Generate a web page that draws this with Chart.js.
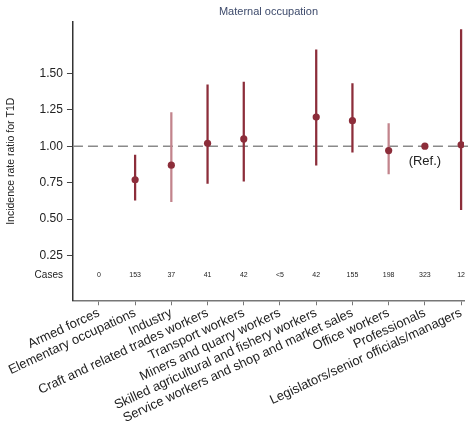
<!DOCTYPE html>
<html>
<head>
<meta charset="utf-8">
<script src="https://cdn.jsdelivr.net/npm/chart.js@4.4.0/dist/chart.umd.min.js"></script>
<style>
  html, body { margin: 0; padding: 0; background: #fff; }
  #wrap { width: 468px; height: 426px; }
</style>
</head>
<body>
<div id="wrap"><canvas id="irr-chart"></canvas></div>
<script>
const categories = [
    'Armed forces',
    'Elementary occupations',
    'Industry',
    'Craft and related trades workers',
    'Transport workers',
    'Miners and quarry workers',
    'Skilled agricultural and fishery workers',
    'Service workers and shop and market sales',
    'Office workers',
    'Professionals',
    'Legislators/senior officials/managers'
]
const irr   = [null, 0.77, 0.87, 1.02, 1.05, null, 1.20, 1.175, 0.97, 1.00, 1.01]
const lower = [null, 0.63, 0.62, 0.745, 0.76, null, 0.87, 0.96, 0.81, null, 0.565]
const upper = [null, 0.94, 1.23, 1.42, 1.44, null, 1.66, 1.43, 1.155, null, 1.80]
const cases = ['0', '153', '37', '41', '42', '<5', '42', '155', '198', '323', '12']
const yTicks = [0.25, 0.50, 0.75, 1.00, 1.25, 1.50]
const refValue = 1.00
const refIndex = 9
const casesRowValue = 0.115

const dark = '#8c2d3a'
const light = '#c2848c'
const ciColors = categories.map((c, i) => (i === 2 || i === 8) ? light : dark)

const ciData = []
const pointData = []
categories.forEach((c, i) => {
    if (lower[i] !== null) ciData.push({ x: i, y: [lower[i], upper[i]] })
    if (irr[i] !== null) pointData.push({ x: i, y: irr[i] })
})

// dashed reference line, cases row and (Ref.) label
const extras = {
    id: 'extras',
    beforeDatasetsDraw(chart) {
        const { ctx, chartArea, scales } = chart
        const y = scales.y.getPixelForValue(refValue)
        ctx.save()
        ctx.strokeStyle = '#8a8a8a'
        ctx.lineWidth = 1.5
        ctx.setLineDash([10, 5])
        ctx.beginPath()
        ctx.moveTo(chartArea.left, y)
        ctx.lineTo(chart.width, y)
        ctx.stroke()
        ctx.restore()
    },
    afterDraw(chart) {
        const { ctx, chartArea, scales } = chart
        const yc = scales.y.getPixelForValue(casesRowValue)
        ctx.save()
        ctx.fillStyle = '#222'
        ctx.textBaseline = 'middle'
        ctx.textAlign = 'center'
        ctx.font = '7px "Liberation Sans", Arial, sans-serif'
        cases.forEach((n, i) => {
            ctx.fillText(n, scales.x.getPixelForValue(i), yc)
        })
        ctx.textAlign = 'right'
        ctx.font = '10px "Liberation Sans", Arial, sans-serif'
        ctx.fillText('Cases', chartArea.left - 10, yc)
        ctx.textAlign = 'center'
        ctx.font = '13px "Liberation Sans", Arial, sans-serif'
        ctx.fillText('(Ref.)', scales.x.getPixelForValue(refIndex), scales.y.getPixelForValue(refValue) + 15)
        ctx.restore()
    }
}

const ctx = document.getElementById('irr-chart').getContext('2d')

const irrChart = new Chart(ctx, {
    data: {
        datasets: [{
            type: 'bar',
            data: ciData,
            backgroundColor: ciColors.filter((c, i) => lower[i] !== null),
            borderWidth: 0,
            barThickness: 1.6,
            order: 2
        }, {
            type: 'scatter',
            data: pointData,
            pointRadius: 3.6,
            pointBackgroundColor: dark,
            pointBorderWidth: 0,
            order: 1
        }]
    },
    options: {
        responsive: true,
        maintainAspectRatio: false,
        animation: false,
        layout: { padding: { left: 5, right: 0, top: 0, bottom: 0 } },
        plugins: {
            legend: { display: false },
            tooltip: { enabled: false },
            title: {
                display: true,
                text: 'Maternal occupation',
                fullSize: false,
                color: '#3d4a6b',
                font: { size: 11, family: '"Liberation Sans", Arial, sans-serif', weight: 'normal' },
                padding: { top: 5, bottom: 4 }
            }
        },
        scales: {
            x: {
                type: 'linear',
                min: -0.716,
                max: 10.08,
                offset: false,
                afterBuildTicks: (scale) => {
                    scale.ticks = categories.map((c, i) => ({ value: i }))
                },
                ticks: {
                    autoSkip: false,
                    minRotation: 25,
                    maxRotation: 25,
                    padding: 0,
                    color: '#222',
                    font: { size: 13, family: '"Liberation Sans", Arial, sans-serif' },
                    callback: (v) => categories[v]
                },
                grid: { drawOnChartArea: false, offset: false, tickLength: 5, color: '#777' },
                border: { color: '#777', width: 1.5 }
            },
            y: {
                min: -0.056,
                max: 1.85,
                afterBuildTicks: (scale) => {
                    scale.ticks = yTicks.map(v => ({ value: v }))
                },
                ticks: {
                    padding: 4,
                    color: '#222',
                    font: { size: 12, family: '"Liberation Sans", Arial, sans-serif' },
                    callback: (v) => v.toFixed(2)
                },
                grid: { drawOnChartArea: false, tickLength: 6, color: '#444' },
                border: { color: '#333', width: 1.5 },
                title: {
                    display: true,
                    text: 'Incidence rate ratio for T1D',
                    color: '#222',
                    font: { size: 10.5, family: '"Liberation Sans", Arial, sans-serif' },
                    padding: { top: 0, bottom: 18 }
                }
            }
        }
    },
    plugins: [extras]
})
</script>
</body>
</html>
